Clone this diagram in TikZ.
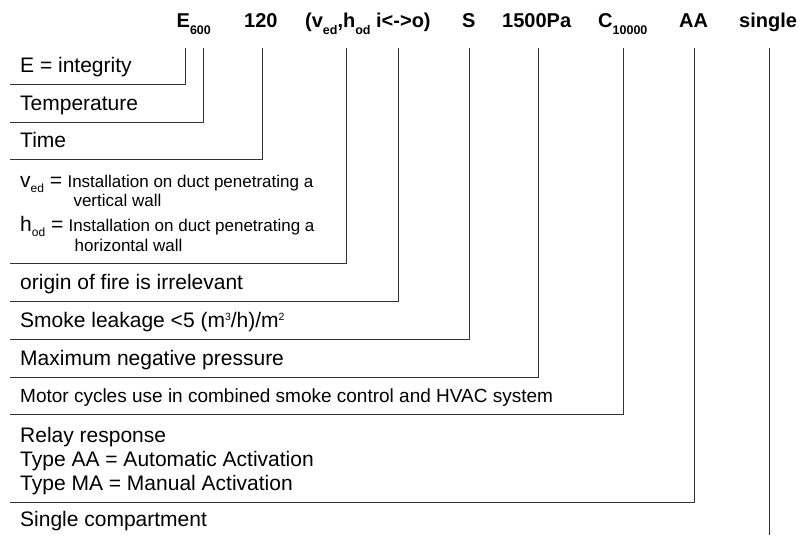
\documentclass[tikz,border=0pt]{standalone}
\usepackage{fontspec}
\setmainfont{Liberation Sans}
\usetikzlibrary{positioning}

\newcommand{\hsub}[1]{\raisebox{-7pt}{\fontsize{12.5}{12.5}\selectfont #1}}
\newcommand{\tsub}[1]{\raisebox{-5pt}{\fontsize{12}{12}\selectfont #1}}
\newcommand{\tsup}[1]{\raisebox{7pt}{\fontsize{10.5}{10.5}\selectfont #1}}

\tikzset{
	codepart/.style={anchor=base west, inner sep=0pt, font=\fontsize{20}{24}\bfseries},
	entry/.style={anchor=base west, inner sep=0pt, font=\fontsize{21}{24}\selectfont},
	note/.style={anchor=base west, inner sep=0pt, font=\fontsize{17}{20}\selectfont},
	leader/.style={draw=black!80, line width=0.9pt},
}

\begin{document}
\begin{tikzpicture}[x=1pt, y=-1pt]%[show background grid]

	\useasboundingbox (0,0) rectangle (802,535);

	\node[codepart] (hE) at (176.5,28) {E\hsub{600}};
	\node[codepart] (hTime) at (244,28) {120};
	\node[codepart] (hInst) at (305,28) {(v\hsub{ed},h\hsub{od} i<->o)};
	\node[codepart] (hS) at (462,28) {S};
	\node[codepart] (hPa) at (502,28) {1500Pa};
	\node[codepart] (hC) at (598,28) {C\hsub{10000}};
	\node[codepart] (hAA) at (679,28) {AA};
	\node[codepart] (hSingle) at (739,28) {single};

	\node[entry] (eE) at (20,72.5) {E = integrity};
	\node[entry] (eTemp) at (20,110) {Temperature};
	\node[entry] (eTime) at (20,147.5) {Time};

	\node[entry] (eV) at (20,187) {v\tsub{ed} =};
	\node[note] (eVtxt) at ([xshift=5pt]eV.base east) {Installation on duct penetrating a};
	\node[note] (eVwall) at ([xshift=6pt, yshift=-19.5pt]eVtxt.base west) {vertical wall};
	\node[entry] (eH) at (20,231.5) {h\tsub{od} =};
	\node[note] (eHtxt) at ([xshift=5pt]eH.base east) {Installation on duct penetrating a};
	\node[note] (eHwall) at ([xshift=6pt, yshift=-20pt]eHtxt.base west) {horizontal wall};

	\node[entry] (eOrigin) at (20,289.3) {origin of fire is irrelevant};
	\node[entry] (eSmoke) at (20,327.3) {Smoke leakage <5 (m\tsup{3}/h)/m\tsup{2}};
	\node[entry] (ePress) at (20,365) {Maximum negative pressure};
	\node[entry, font=\fontsize{19}{22}\selectfont] (eMotor) at (20,402.7) {Motor cycles use in combined smoke control and HVAC system};
	\node[entry] (eRelay) at (20,442) {Relay response};
	\node[entry] (eAA) at (20,466) {Type AA = Automatic Activation};
	\node[entry] (eMA) at (20,490) {Type MA = Manual Activation};
	\node[entry] (eSingle) at (20,526) {Single compartment};

	\coordinate (tE) at (185,48);
	\coordinate (tTemp) at (203,48);
	\coordinate (tTime) at (262,48);
	\coordinate (tInst) at (346,48);
	\coordinate (tOrigin) at (398,48);
	\coordinate (tSmoke) at (469,48);
	\coordinate (tPress) at (538,48);
	\coordinate (tMotor) at (623,48);
	\coordinate (tRelay) at (694,48);
	\coordinate (tSingle) at (769,48);
	\coordinate (bSingle) at (769,535);

	\draw[leader] (tE) |- (10,84.5);
	\draw[leader] (tTemp) |- (10,122);
	\draw[leader] (tTime) |- (10,159.5);
	\draw[leader] (tInst) |- (10,263.3);
	\draw[leader] (tOrigin) |- (10,301.3);
	\draw[leader] (tSmoke) |- (10,339.3);
	\draw[leader] (tPress) |- (10,377);
	\draw[leader] (tMotor) |- (10,414.7);
	\draw[leader] (tRelay) |- (10,502);
	\draw[leader] (tSingle) -- (bSingle);

\end{tikzpicture}
\end{document}
